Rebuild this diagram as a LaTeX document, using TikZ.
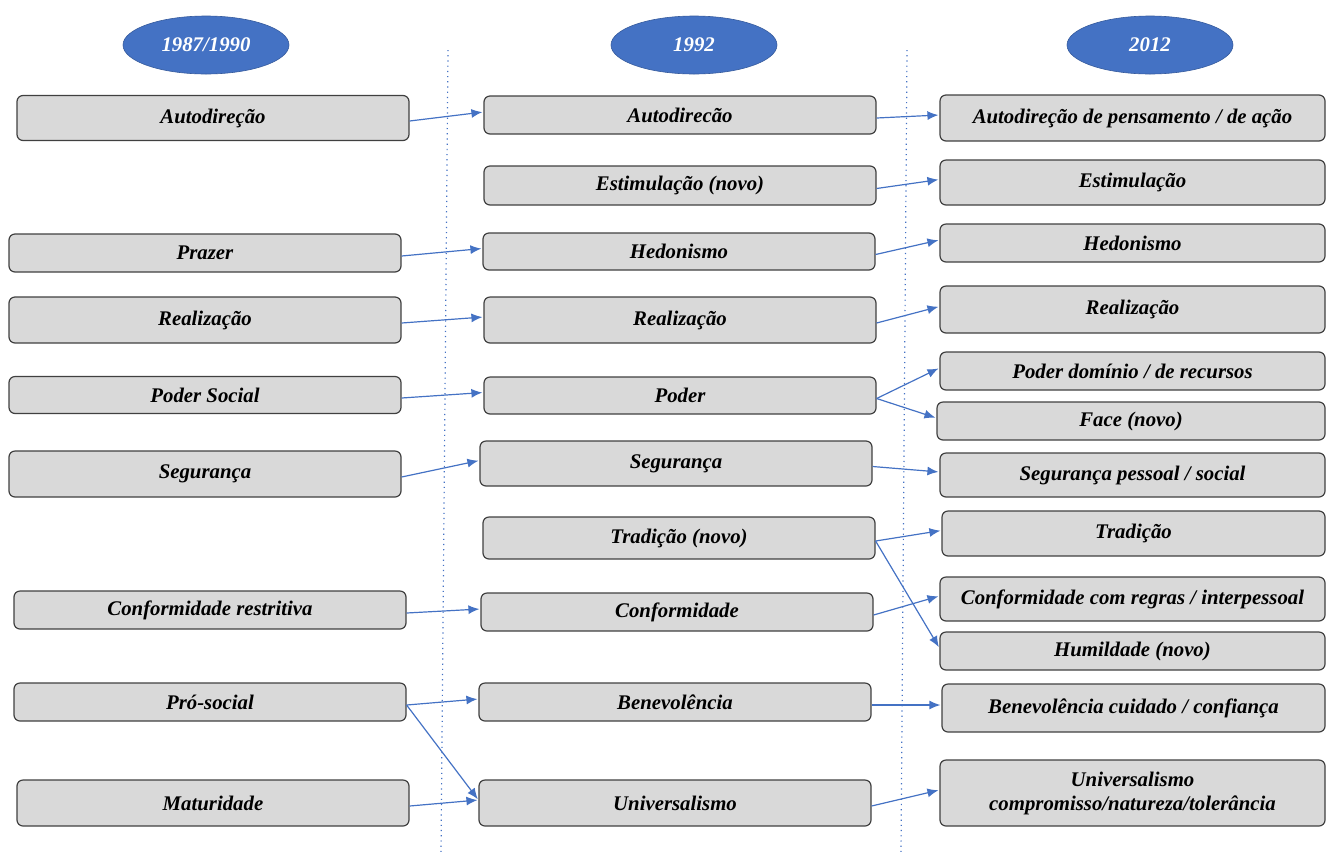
\documentclass[tikz,border=0pt]{standalone}
\usepackage{fontspec}
\setmainfont{Liberation Serif}
\usepackage{tikz}
\usetikzlibrary{arrows.meta}
\usetikzlibrary{shapes.geometric}

\definecolor{azul}{HTML}{4472C4}
\definecolor{caixa}{HTML}{D9D9D9}

\begin{document}
\begin{tikzpicture}
[x=0.5pt,y=-0.5pt,->,>={Latex[length=5.5pt,width=4.5pt]},
  valor/.style={draw=black!75,line width=0.6pt,rounded corners=3pt,fill=caixa,
    minimum width=196pt,inner sep=1pt,align=center,
    font=\fontsize{10.4}{12}\selectfont\bfseries\itshape},
  novo/.style={valor,minimum width=192.5pt},
  ano/.style={ellipse,fill=azul,draw=azul!80!black,line width=0.3pt,minimum width=83pt,minimum height=29pt,
    text=white,font=\fontsize{10.4}{12}\selectfont\bfseries\itshape},
  liga/.style={azul,line width=0.6pt,shorten >=0.5pt},
  divisa/.style={-,azul,dotted,line width=0.6pt}]
  \useasboundingbox (0,0) rectangle (1327,853);

  \node[ano] (ano1) at 		(206,45) {1987/1990};
  \node[ano] (ano2) at 		(694,45) {1992};
  \node[ano] (ano3) at 		(1150,45) {2012};

  \draw[divisa] (448,50) -- (441,853);
  \draw[divisa] (907,50) -- (901,853);

  % 1987/1990
  \node[valor,minimum height=22.5pt] (autodirA) at 	(213,118) {Autodireção};
  \node[valor,minimum height=19pt] (prazer) at 		(205,253) {Prazer};
  \node[valor,minimum height=23pt] (realizA) at 	(205,320) {Realização};
  \node[valor,minimum height=18.5pt] (poderSoc) at 	(205,395) {Poder Social};
  \node[valor,minimum height=23pt] (segurA) at 		(205,474) {Segurança};
  \node[valor,minimum height=19pt] (conformRes) at 	(210,610) {Conformidade restritiva};
  \node[valor,minimum height=19pt] (prosocial) at 	(210,702) {Pró-social};
  \node[valor,minimum height=23pt] (maturid) at 	(213,803) {Maturidade};

  % 1992
  \node[valor,minimum height=19pt] (autodirB) at 	(680,115) {Autodirecão};
  \node[valor,minimum height=19.5pt] (estimB) at 	(680,185.5) {Estimulação (novo)};
  \node[valor,minimum height=18.5pt] (hedonB) at 	(679,251.5) {Hedonismo};
  \node[valor,minimum height=23pt] (realizB) at 	(680,320) {Realização};
  \node[valor,minimum height=18.5pt] (poderB) at 	(680,395.5) {Poder};
  \node[valor,minimum height=22.5pt] (segurB) at 	(676,463.5) {Segurança};
  \node[valor,minimum height=21pt] (tradB) at 		(679,538) {Tradição (novo)};
  \node[valor,minimum height=19pt] (conformB) at 	(677,612) {Conformidade};
  \node[valor,minimum height=19pt] (benevB) at 		(675,702) {Benevolência};
  \node[valor,minimum height=23pt] (universB) at 	(675,803) {Universalismo};

  % 2012
  \node[novo,minimum height=23pt] (autodirC) at 	(1132.5,118) {Autodireção de pensamento / de ação};
  \node[novo,minimum height=22.5pt] (estimC) at 	(1132.5,182.5) {Estimulação};
  \node[novo,minimum height=19pt] (hedonC) at 		(1132.5,243) {Hedonismo};
  \node[novo,minimum height=23.5pt] (realizC) at 	(1132.5,309.5) {Realização};
  \node[novo,minimum height=19pt] (poderDom) at 	(1132.5,371) {Poder domínio / de recursos};
  \node[novo,minimum height=19pt,minimum width=194pt] (face) at (1131,421) {Face (novo)};
  \node[novo,minimum height=22pt] (segurC) at 		(1132.5,475) {Segurança pessoal / social};
  \node[novo,minimum height=22.5pt,minimum width=191.5pt] (tradC) at (1133.5,533.5) {Tradição};
  \node[novo,minimum height=22pt] (conformC) at 	(1132.5,599) {Conformidade com regras / interpessoal};
  \node[novo,minimum height=19pt] (humild) at 		(1132.5,651) {Humildade (novo)};
  \node[novo,minimum height=24pt,minimum width=191.5pt] (benevC) at (1133.5,708) {Benevolência cuidado / confiança};
  \node[novo,minimum height=33pt] (universC) at 	(1132.5,793) {Universalismo\\compromisso/natureza/tolerância};

   \foreach \from/\to in {autodirA/autodirB, prazer/hedonB, realizA/realizB,
      poderSoc/poderB, segurA/segurB, conformRes/conformB,
      prosocial/benevB, prosocial/universB, maturid/universB,
      autodirB/autodirC, estimB/estimC, hedonB/hedonC, realizB/realizC,
      poderB/poderDom, poderB/face, segurB/segurC,
      tradB/tradC, tradB/humild, conformB/conformC,
      benevB/benevC, universB/universC}
     \draw[liga] ([yshift=-1.5pt]\from.east) -- ([yshift=1.5pt]\to.west);

\end{tikzpicture}
\end{document}
